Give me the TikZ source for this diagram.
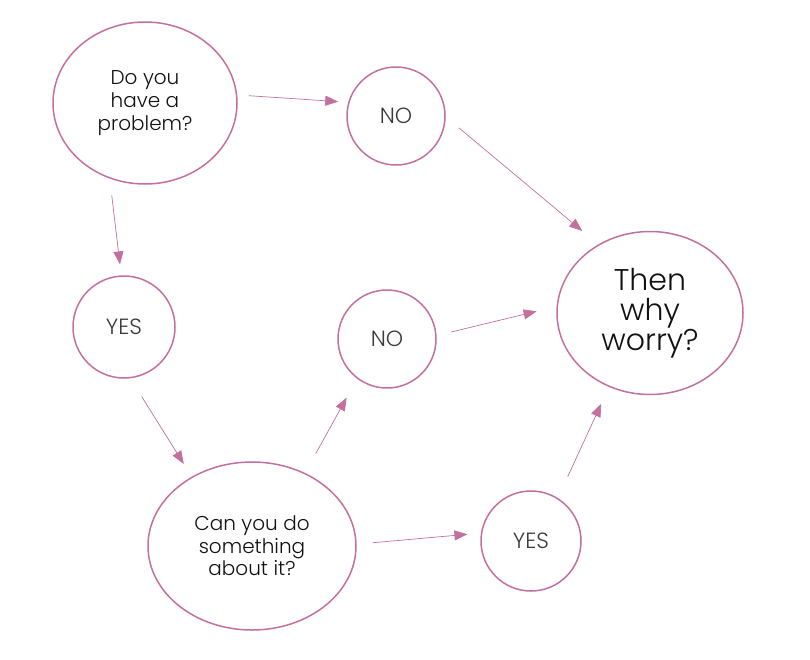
\documentclass[tikz,border=0pt]{standalone}
\usepackage{fontspec}
\setmainfont{Poppins}[UprightFont=* Light]
\usetikzlibrary{arrows.meta,shapes.geometric}
\definecolor{rose}{HTML}{C4709E}
\definecolor{ink}{HTML}{111111}
\definecolor{inkgray}{HTML}{3A3A3A}
\tikzset{
  question/.style={ellipse,draw=rose,line width=1.5pt,inner sep=0pt,
                   align=center,text=ink},
  answer/.style={circle,draw=rose,line width=1.5pt,inner sep=0pt,
                 text=inkgray,font=\fontsize{22}{24}\selectfont},
  flowarr/.style={-{Triangle[length=13pt,width=10pt]},line width=0.7pt,draw=rose}
}
\begin{document}
\begin{tikzpicture}[x=1pt,y=-1pt]
  \useasboundingbox (0,0) rectangle (810,659);
  % questions
  \node[question,minimum width=184pt,minimum height=162pt,
        font=\fontsize{20}{23}\selectfont] (problem) at (145,103) {Do you\\have a\\problem?};
  \node[question,minimum width=208pt,minimum height=168pt,
        font=\fontsize{20}{22.5}\selectfont] (doit) at (252,546) {Can you do\\something\\about it?};
  \node[question,minimum width=186pt,minimum height=163pt,
        font=\fontsize{30}{30}\selectfont] (worry) at (650,313) {Then\\why\\worry?};
  % answers
  \node[answer,minimum size=98pt] (no1) at (396,116) {NO};
  \node[answer,minimum size=102pt] (yes1) at (124,327) {YES};
  \node[answer,minimum size=98pt] (no2) at (387,339) {NO};
  \node[answer,minimum size=100pt] (yes2) at (531,541) {YES};

  \draw[flowarr,shorten <=11.5pt,shorten >=10pt] (problem.5) -- (no1.164);
  \draw[flowarr,shorten <=17pt,shorten >=21pt] (no1.-1) -- (worry.127.6);
  \draw[flowarr,shorten <=17pt,shorten >=11pt] (problem.245) -- (yes1.93);
  \draw[flowarr,shorten <=21.5pt,shorten >=15pt] (yes1.-83.5) -- (doit.131.9);
  \draw[flowarr,shorten <=22pt,shorten >=21.6pt] (doit.54.4) -- (no2.233);
  \draw[flowarr,shorten <=15pt,shorten >=20.5pt] (no2.4.7) -- (worry.176);
  \draw[flowarr,shorten <=16pt,shorten >=13.5pt] (doit.1) -- (yes2.171.8);
  \draw[flowarr,shorten <=23.5pt,shorten >=18.5pt] (yes2.58.7) -- (worry.241.3);
\end{tikzpicture}
\end{document}
